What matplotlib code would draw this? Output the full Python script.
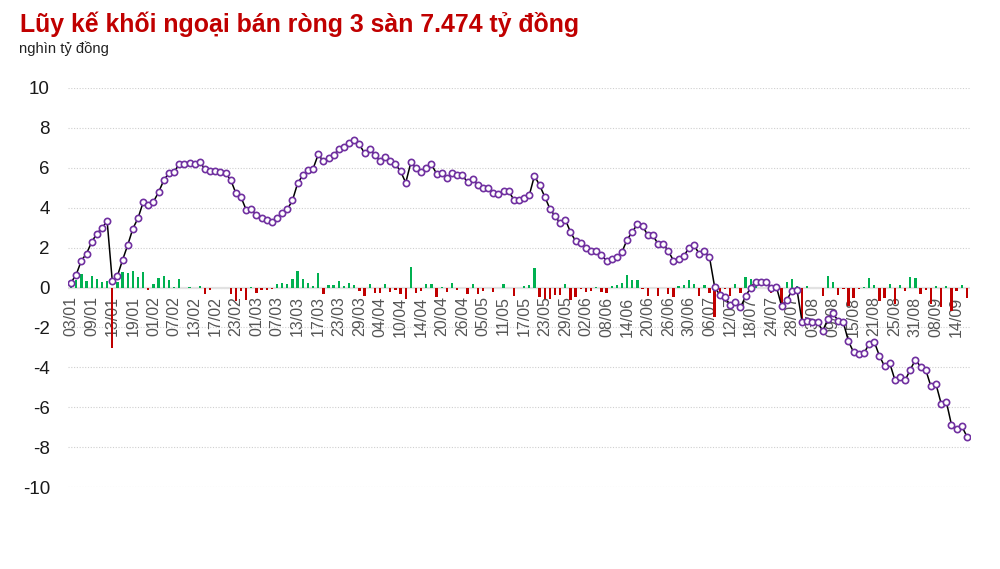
import numpy as np
import matplotlib.pyplot as plt

plt.rcParams['font.family'] = ['Liberation Sans', 'DejaVu Sans']
plt.rcParams['axes.unicode_minus'] = False

title = 'Lũy kế khối ngoại bán ròng 3 sàn 7.474 tỷ đồng'
unit = 'nghìn tỷ đồng'

# tick labels, one every 4 sessions
date_labels = ['03/01', '09/01', '13/01', '19/01', '01/02', '07/02', '13/02', '17/02',
               '23/02', '01/03', '07/03', '13/03', '17/03', '23/03', '29/03', '04/04',
               '10/04', '14/04', '20/04', '26/04', '05/05', '11/05', '17/05', '23/05',
               '29/05', '02/06', '08/06', '14/06', '20/06', '26/06', '30/06', '06/07',
               '12/07', '18/07', '24/07', '28/07', '03/08', '09/08', '15/08', '21/08',
               '25/08', '31/08', '08/09', '14/09']

# cumulative net (thousand bn VND), one value per session
cumulative = [
    0.25, 0.65, 1.35, 1.70, 2.28, 2.70, 2.98, 3.33, 0.32, 0.58,
    1.38, 2.13, 2.95, 3.48, 4.27, 4.13, 4.30, 4.78, 5.37, 5.75,
    5.78, 6.20, 6.20, 6.23, 6.20, 6.28, 5.95, 5.83, 5.83, 5.78,
    5.73, 5.40, 4.73, 4.53, 3.90, 3.92, 3.62, 3.50, 3.38, 3.30,
    3.50, 3.75, 3.92, 4.37, 5.22, 5.63, 5.87, 5.95, 6.67, 6.33,
    6.48, 6.62, 6.95, 7.03, 7.25, 7.37, 7.17, 6.73, 6.92, 6.65,
    6.35, 6.55, 6.32, 6.17, 5.83, 5.25, 6.27, 6.00, 5.80, 6.00,
    6.17, 5.70, 5.73, 5.48, 5.73, 5.62, 5.62, 5.28, 5.45, 5.13,
    4.97, 4.97, 4.72, 4.67, 4.83, 4.83, 4.40, 4.38, 4.48, 4.63,
    5.60, 5.13, 4.55, 3.95, 3.58, 3.22, 3.40, 2.78, 2.32, 2.25,
    2.00, 1.82, 1.85, 1.62, 1.35, 1.42, 1.53, 1.78, 2.40, 2.78,
    3.18, 3.08, 2.63, 2.62, 2.18, 2.18, 1.83, 1.35, 1.45, 1.58,
    1.97, 2.13, 1.68, 1.82, 1.52, 0.03, -0.37, -0.47, -0.88, -0.72,
    -1.00, -0.45, 0.00, 0.30, 0.30, 0.30, 0.00, 0.03, -0.92, -0.62,
    -0.18, -0.12, -1.75, -1.68, -1.72, -1.75, -2.17, -1.58, -1.30, -1.67,
    -1.75, -2.70, -3.25, -3.32, -3.30, -2.83, -2.72, -3.42, -3.95, -3.78,
    -4.62, -4.48, -4.65, -4.12, -3.62, -3.97, -4.12, -4.95, -4.85, -5.82,
    -5.72, -6.88, -7.08, -6.95, -7.47,
]

# daily net buy/sell per session
daily = [
    0.25, 0.40, 0.70, 0.35, 0.58, 0.42, 0.28, 0.35, -3.01, 0.26,
    0.80, 0.75, 0.82, 0.53, 0.79, -0.14, 0.17, 0.48, 0.59, 0.38,
    0.03, 0.42, 0.00, 0.03, -0.03, 0.08, -0.33, -0.12, 0.00, -0.05,
    -0.05, -0.33, -0.67, -0.20, -0.63, 0.02, -0.30, -0.12, -0.12, -0.08,
    0.20, 0.25, 0.17, 0.45, 0.85, 0.41, 0.24, 0.08, 0.72, -0.34,
    0.15, 0.14, 0.33, 0.08, 0.22, 0.12, -0.20, -0.44, 0.19, -0.27,
    -0.30, 0.20, -0.23, -0.15, -0.34, -0.58, 1.02, -0.27, -0.20, 0.20,
    0.17, -0.47, 0.03, -0.25, 0.25, -0.11, 0.00, -0.34, 0.17, -0.32,
    -0.16, 0.00, -0.25, -0.05, 0.16, 0.00, -0.43, -0.02, 0.10, 0.15,
    0.97, -0.47, -0.58, -0.60, -0.37, -0.36, 0.18, -0.62, -0.46, -0.07,
    -0.25, -0.18, 0.03, -0.23, -0.27, 0.07, 0.11, 0.25, 0.62, 0.38,
    0.40, -0.10, -0.45, -0.01, -0.44, 0.00, -0.35, -0.48, 0.10, 0.13,
    0.39, 0.16, -0.45, 0.14, -0.30, -1.49, -0.40, -0.10, -0.41, 0.16,
    -0.28, 0.55, 0.45, 0.30, 0.00, 0.00, -0.30, 0.03, -0.95, 0.30,
    0.44, 0.06, -1.63, 0.07, -0.04, -0.03, -0.42, 0.59, 0.28, -0.37,
    -0.08, -0.95, -0.55, -0.07, 0.02, 0.47, 0.11, -0.70, -0.53, 0.17,
    -0.84, 0.14, -0.17, 0.53, 0.50, -0.35, -0.15, -0.83, 0.10, -0.97,
    0.10, -1.16, -0.20, 0.13, -0.52,
]

x = np.arange(len(cumulative))
daily = np.array(daily)

fig = plt.figure(figsize=(10, 5.69), dpi=100)
ax = fig.add_axes([0.068, 82 / 569, 0.902, 399 / 569])

for y in range(-10, 11, 2):
    ax.axhline(y, color='#cfcfcf', lw=0.8, ls=(0, (1, 1.5)), zorder=0)
ax.axhline(0, color='#e2e2e2', lw=1.6, zorder=0.5)

for i, lab in enumerate(date_labels):
    ax.text(i * 4, -0.45, lab, rotation=90, ha='center', va='top',
            fontsize=11.5, color='#555555', zorder=1)

colors = np.where(daily >= 0, '#00b050', '#c00000')
ax.bar(x, daily, width=0.45, color=colors, zorder=2)

ax.plot(x, cumulative, color='black', lw=1.1, marker='o', ms=4.5,
        mfc='white', mec='#7030a0', mew=1.2, zorder=3)

ax.set_xlim(-0.6, 174.6)
ax.set_ylim(-10, 10)
ax.set_yticks(range(-10, 11, 2))
ax.set_xticks([])
ax.tick_params(axis='y', length=0, pad=13, labelsize=13.5, labelcolor='#1a1a1a')
for s in ax.spines.values():
    s.set_visible(False)

fig.text(0.02, 1 - 32 / 569, title, fontsize=17.9, fontweight='bold',
         color='#c00000', va='baseline')
fig.text(0.019, 1 - 53 / 569, unit, fontsize=10.6, color='#222222', va='baseline')

fig.savefig('out.png', dpi=100)
